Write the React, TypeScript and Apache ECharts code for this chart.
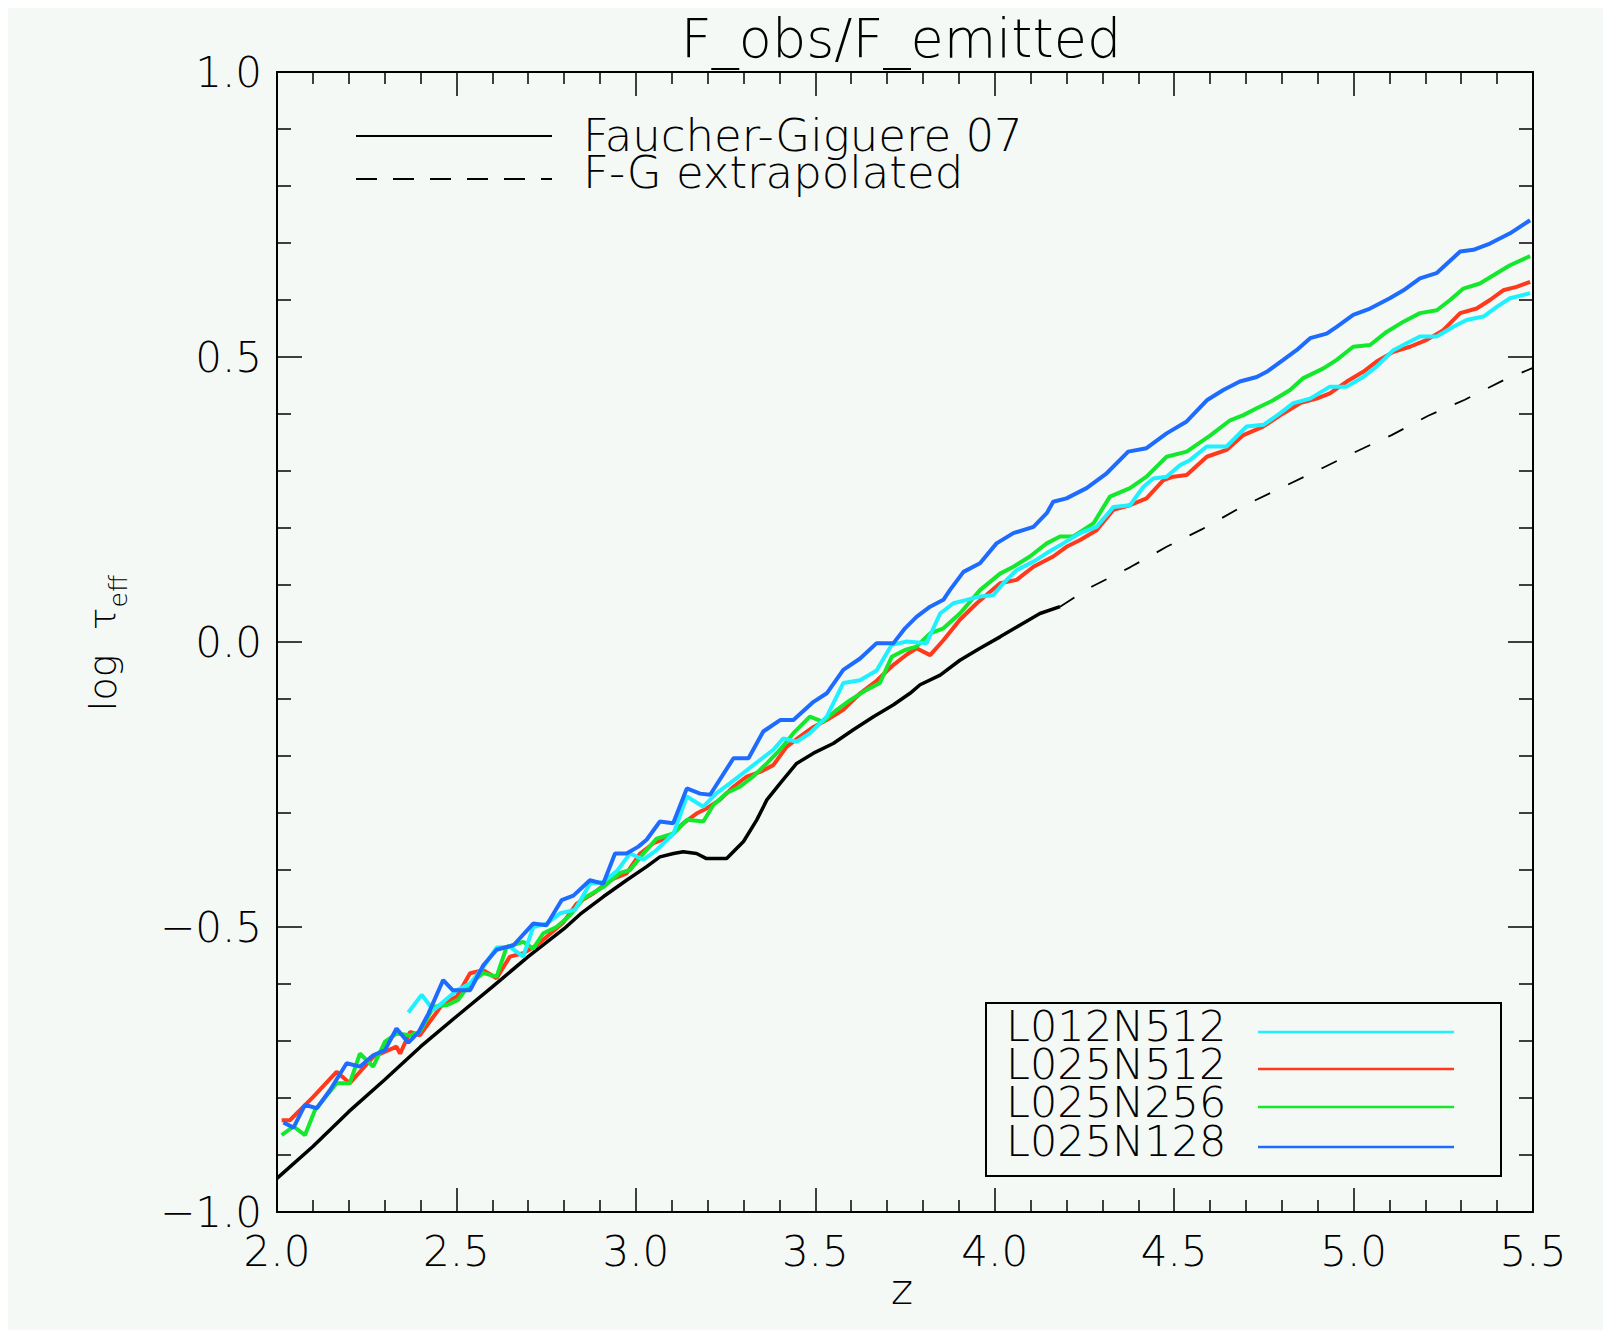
import React, { useEffect, useRef } from "react";
import * as echarts from "echarts";

const TITLE = "F_obs/F_emitted";
const X_NAME = "z";
const LEGEND_TOP = ["Faucher-Giguere 07", "F-G extrapolated"];
const RUN_NAMES = ["L012N512", "L025N512", "L025N256", "L025N128"];
const RUN_COLORS = ["#1ef0ff", "#ff3a1c", "#14e82c", "#1e6cff"];

const X_MIN = 2.0;
const X_MAX = 5.5;
const Y_MIN = -1.0;
const Y_MAX = 1.0;

// Faucher-Giguere 07 (measured range)
const fg07: number[][] = [
  [2.0, -0.941], [2.1, -0.885], [2.2, -0.824], [2.3, -0.768], [2.4, -0.71], [2.5, -0.657],
  [2.6, -0.605], [2.7, -0.552], [2.8, -0.503], [2.844, -0.478], [2.909, -0.447], [2.974, -0.418],
  [3.03, -0.394], [3.067, -0.377], [3.105, -0.371], [3.132, -0.368], [3.169, -0.371], [3.197, -0.38],
  [3.253, -0.38], [3.3, -0.35], [3.337, -0.312], [3.365, -0.277], [3.402, -0.248], [3.448, -0.213],
  [3.495, -0.195], [3.55, -0.178], [3.606, -0.154], [3.662, -0.131], [3.718, -0.11], [3.764, -0.09],
  [3.792, -0.075], [3.848, -0.058], [3.903, -0.032], [3.959, -0.011], [4.015, 0.009], [4.071, 0.03],
  [4.126, 0.05], [4.182, 0.062],
];

// F-G extrapolated
const fgExtrap: number[][] = [
  [4.182, 0.062], [4.27, 0.097], [4.377, 0.131], [4.479, 0.167], [4.581, 0.199], [4.688, 0.237],
  [4.79, 0.268], [4.893, 0.299], [5.0, 0.332], [5.106, 0.363], [5.208, 0.397], [5.31, 0.425],
  [5.417, 0.459], [5.5, 0.481],
];

const L012N512: number[][] = [
  [2.366, -0.65], [2.403, -0.619], [2.436, -0.646], [2.501, -0.611], [2.538, -0.599], [2.575, -0.57],
  [2.612, -0.536], [2.649, -0.535], [2.686, -0.552], [2.714, -0.5], [2.751, -0.494], [2.789, -0.476],
  [2.83, -0.47], [2.872, -0.424], [2.909, -0.421], [2.947, -0.402], [2.984, -0.371], [3.021, -0.382],
  [3.058, -0.365], [3.105, -0.336], [3.142, -0.271], [3.188, -0.289], [3.225, -0.265], [3.262, -0.248],
  [3.309, -0.225], [3.346, -0.207], [3.383, -0.189], [3.411, -0.169], [3.448, -0.175], [3.485, -0.16],
  [3.532, -0.131], [3.578, -0.072], [3.625, -0.067], [3.671, -0.05], [3.713, -0.005], [3.755, 0.001],
  [3.81, -0.002], [3.848, 0.05], [3.885, 0.068], [3.922, 0.074], [3.959, 0.08], [3.996, 0.082],
  [4.024, 0.103], [4.061, 0.126], [4.108, 0.141], [4.145, 0.156], [4.191, 0.173], [4.238, 0.191],
  [4.284, 0.202], [4.331, 0.237], [4.377, 0.24], [4.414, 0.272], [4.442, 0.287], [4.479, 0.29],
  [4.516, 0.31], [4.544, 0.319], [4.591, 0.343], [4.646, 0.343], [4.702, 0.378], [4.749, 0.381],
  [4.795, 0.401], [4.832, 0.419], [4.879, 0.427], [4.934, 0.448], [4.981, 0.448], [5.027, 0.465],
  [5.064, 0.483], [5.111, 0.512], [5.148, 0.524], [5.185, 0.536], [5.232, 0.536], [5.278, 0.553],
  [5.315, 0.565], [5.362, 0.571], [5.399, 0.588], [5.436, 0.603], [5.492, 0.612],
];

const L025N512: number[][] = [
  [2.013, -0.839], [2.036, -0.839], [2.101, -0.798], [2.166, -0.754], [2.203, -0.774], [2.268, -0.728],
  [2.333, -0.71], [2.343, -0.722], [2.371, -0.684], [2.398, -0.69], [2.463, -0.634], [2.501, -0.622],
  [2.538, -0.581], [2.575, -0.576], [2.612, -0.59], [2.649, -0.552], [2.686, -0.546], [2.724, -0.532],
  [2.798, -0.492], [2.835, -0.459], [2.882, -0.441], [2.928, -0.418], [2.974, -0.406], [3.012, -0.371],
  [3.049, -0.353], [3.095, -0.342], [3.132, -0.318], [3.169, -0.301], [3.197, -0.292], [3.234, -0.277],
  [3.272, -0.254], [3.309, -0.236], [3.346, -0.228], [3.383, -0.216], [3.42, -0.184], [3.457, -0.166],
  [3.495, -0.149], [3.532, -0.137], [3.578, -0.119], [3.625, -0.09], [3.671, -0.068], [3.718, -0.04],
  [3.755, -0.022], [3.782, -0.011], [3.82, -0.023], [3.857, 0.003], [3.903, 0.039], [3.95, 0.068],
  [4.015, 0.103], [4.061, 0.109], [4.108, 0.132], [4.163, 0.15], [4.2, 0.167], [4.238, 0.179],
  [4.284, 0.196], [4.331, 0.232], [4.377, 0.24], [4.423, 0.252], [4.47, 0.284], [4.498, 0.29],
  [4.535, 0.293], [4.591, 0.325], [4.646, 0.337], [4.693, 0.363], [4.748, 0.378], [4.804, 0.401],
  [4.851, 0.419], [4.897, 0.427], [4.934, 0.436], [4.981, 0.457], [5.027, 0.474], [5.064, 0.492],
  [5.111, 0.509], [5.157, 0.518], [5.204, 0.53], [5.25, 0.547], [5.297, 0.577], [5.343, 0.585],
  [5.38, 0.6], [5.417, 0.617], [5.454, 0.623], [5.492, 0.632],
];

const L025N256: number[][] = [
  [2.013, -0.865], [2.046, -0.85], [2.078, -0.865], [2.106, -0.821], [2.166, -0.774], [2.203, -0.774],
  [2.231, -0.722], [2.268, -0.745], [2.301, -0.701], [2.333, -0.687], [2.371, -0.69], [2.398, -0.684],
  [2.436, -0.64], [2.473, -0.637], [2.505, -0.628], [2.538, -0.599], [2.575, -0.581], [2.612, -0.587],
  [2.64, -0.535], [2.686, -0.526], [2.714, -0.538], [2.742, -0.511], [2.779, -0.5], [2.816, -0.48],
  [2.854, -0.45], [2.909, -0.43], [2.956, -0.405], [2.984, -0.4], [3.021, -0.371], [3.058, -0.345],
  [3.105, -0.336], [3.142, -0.312], [3.188, -0.315], [3.216, -0.286], [3.253, -0.265], [3.29, -0.254],
  [3.327, -0.236], [3.365, -0.213], [3.402, -0.189], [3.439, -0.16], [3.485, -0.131], [3.522, -0.14],
  [3.56, -0.119], [3.597, -0.102], [3.643, -0.084], [3.68, -0.072], [3.713, -0.026], [3.75, -0.014],
  [3.782, -0.008], [3.82, 0.015], [3.857, 0.024], [3.903, 0.05], [3.959, 0.091], [4.015, 0.12],
  [4.052, 0.132], [4.098, 0.15], [4.145, 0.173], [4.182, 0.185], [4.219, 0.185], [4.275, 0.208],
  [4.321, 0.255], [4.377, 0.27], [4.423, 0.29], [4.479, 0.325], [4.535, 0.334], [4.6, 0.362],
  [4.656, 0.389], [4.693, 0.398], [4.73, 0.41], [4.776, 0.424], [4.823, 0.442], [4.86, 0.463],
  [4.916, 0.48], [4.953, 0.495], [4.999, 0.518], [5.046, 0.521], [5.092, 0.544], [5.139, 0.562],
  [5.185, 0.577], [5.232, 0.582], [5.269, 0.6], [5.306, 0.62], [5.352, 0.629], [5.399, 0.647],
  [5.436, 0.661], [5.492, 0.677],
];

const L025N128: number[][] = [
  [2.018, -0.843], [2.046, -0.852], [2.078, -0.812], [2.111, -0.818], [2.148, -0.786], [2.194, -0.739],
  [2.231, -0.745], [2.268, -0.725], [2.301, -0.716], [2.333, -0.678], [2.366, -0.703], [2.394, -0.685],
  [2.422, -0.652], [2.463, -0.593], [2.49, -0.611], [2.538, -0.611], [2.575, -0.567], [2.612, -0.54],
  [2.659, -0.532], [2.714, -0.494], [2.751, -0.497], [2.793, -0.453], [2.826, -0.445], [2.872, -0.418],
  [2.909, -0.424], [2.942, -0.371], [2.974, -0.371], [3.007, -0.359], [3.03, -0.347], [3.067, -0.315],
  [3.104, -0.318], [3.142, -0.257], [3.179, -0.266], [3.207, -0.268], [3.272, -0.204], [3.314, -0.204],
  [3.355, -0.157], [3.402, -0.137], [3.439, -0.137], [3.495, -0.105], [3.532, -0.09], [3.578, -0.049],
  [3.625, -0.029], [3.671, -0.002], [3.718, -0.002], [3.75, 0.024], [3.782, 0.044], [3.82, 0.062],
  [3.857, 0.074], [3.875, 0.091], [3.913, 0.123], [3.959, 0.138], [4.005, 0.173], [4.052, 0.191],
  [4.108, 0.202], [4.145, 0.226], [4.163, 0.246], [4.2, 0.252], [4.256, 0.27], [4.312, 0.296],
  [4.372, 0.334], [4.423, 0.34], [4.479, 0.366], [4.535, 0.387], [4.591, 0.424], [4.637, 0.442],
  [4.683, 0.457], [4.73, 0.465], [4.758, 0.474], [4.804, 0.495], [4.841, 0.512], [4.879, 0.533],
  [4.925, 0.541], [4.953, 0.553], [4.999, 0.574], [5.046, 0.585], [5.101, 0.603], [5.139, 0.617],
  [5.185, 0.638], [5.231, 0.647], [5.297, 0.685], [5.334, 0.688], [5.38, 0.699], [5.436, 0.717],
  [5.492, 0.74],
];

const FONT = '"DejaVu Sans", "Liberation Sans", sans-serif';
const W = 1595;
const H = 1322;

export default function App() {
  const ref = useRef<HTMLDivElement>(null);

  useEffect(() => {
    if (!ref.current) return;
    const chart = echarts.init(ref.current, undefined, { renderer: "svg" });

    const labelStyle = {
      color: "#000",
      fontFamily: FONT,
      fontWeight: 200 as any,
      fontSize: 42,
    };
    const tickStyle = { color: "#000", width: 1.5 };
    const axisLine = { show: true, onZero: false, lineStyle: { color: "#000", width: 2 } };

    const xBase = {
      type: "value" as const,
      min: X_MIN,
      max: X_MAX,
      interval: 0.5,
      axisLine,
      splitLine: { show: false },
      minorSplitLine: { show: false },
      axisTick: { show: true, inside: true, length: 24, lineStyle: tickStyle },
      minorTick: { show: true, splitNumber: 5, length: 12, lineStyle: tickStyle },
    };
    const yBase = {
      type: "value" as const,
      min: Y_MIN,
      max: Y_MAX,
      interval: 0.5,
      axisLine,
      splitLine: { show: false },
      minorSplitLine: { show: false },
      axisTick: { show: true, inside: true, length: 25, lineStyle: tickStyle },
      minorTick: { show: true, splitNumber: 5, length: 14, lineStyle: tickStyle },
    };

    const runData = [L012N512, L025N512, L025N256, L025N128];
    const drawOrder = [1, 2, 0, 3];

    const series: any[] = [
      {
        name: LEGEND_TOP[0],
        type: "line",
        data: fg07,
        showSymbol: false,
        symbol: "none",
        lineStyle: { color: "#000", width: 3.5 },
        z: 2,
      },
      {
        name: LEGEND_TOP[1],
        type: "line",
        data: fgExtrap,
        showSymbol: false,
        symbol: "none",
        lineStyle: { color: "#000", width: 1.8, type: [17, 20] },
        z: 2,
      },
      ...drawOrder.map((i, k) => ({
        name: RUN_NAMES[i],
        type: "line",
        data: runData[i],
        showSymbol: false,
        symbol: "none",
        lineStyle: { color: RUN_COLORS[i], width: 4 },
        z: 3 + k,
      })),
    ];

    const textFont = (size: number) => `200 ${size}px ${FONT}`;

    const legendRowsY = [1018, 1056, 1094, 1133];
    const legendLinesY = [1024, 1061, 1099, 1139];

    const graphic: any[] = [
      {
        type: "text",
        x: 893,
        y: 30,
        style: {
          text: TITLE, font: textFont(54), lineHeight: 48, fill: "#000",
          textAlign: "center", textVerticalAlign: "middle",
        },
      },
      {
        type: "text",
        x: 894,
        y: 1281,
        style: { text: X_NAME, font: textFont(42), fill: "#000", textAlign: "center", textVerticalAlign: "middle" },
      },
      {
        type: "text",
        x: 99,
        y: 635,
        rotation: Math.PI / 2,
        style: {
          text: "{a|log  τ}{b|eff}",
          fill: "#000",
          textAlign: "center",
          textVerticalAlign: "middle",
          rich: {
            a: { fontFamily: FONT, fontWeight: 200, fontSize: 38, verticalAlign: "bottom", padding: [0, 0, 9, 0] },
            b: { fontFamily: FONT, fontWeight: 200, fontSize: 25, verticalAlign: "bottom" },
          },
        },
      },
      // top-left legend
      {
        type: "line",
        shape: { x1: 348, y1: 128, x2: 544, y2: 128 },
        style: { stroke: "#000", lineWidth: 2 },
      },
      {
        type: "text",
        x: 575,
        y: 127,
        style: {
          text: LEGEND_TOP[0], font: textFont(45), lineHeight: 34, fill: "#000",
          textAlign: "left", textVerticalAlign: "middle",
        },
      },
      {
        type: "line",
        shape: { x1: 348, y1: 171, x2: 544, y2: 171 },
        style: { stroke: "#000", lineWidth: 2, lineDash: [21, 16] },
      },
      {
        type: "text",
        x: 575,
        y: 164,
        style: {
          text: LEGEND_TOP[1], font: textFont(45), lineHeight: 34, fill: "#000",
          textAlign: "left", textVerticalAlign: "middle",
        },
      },
      // bottom-right legend box
      {
        type: "rect",
        shape: { x: 978, y: 995, width: 515, height: 173 },
        style: { fill: "none", stroke: "#000", lineWidth: 2 },
      },
      ...RUN_NAMES.map((n, i) => ({
        type: "text",
        x: 998,
        y: legendRowsY[i],
        style: {
          text: n, font: textFont(43), lineHeight: 34, fill: "#000",
          textAlign: "left", textVerticalAlign: "middle",
        },
      })),
      ...RUN_COLORS.map((c, i) => ({
        type: "line",
        shape: { x1: 1250, y1: legendLinesY[i], x2: 1446, y2: legendLinesY[i] },
        style: { stroke: c, lineWidth: 2.5 },
      })),
    ];

    chart.setOption({
      animation: false,
      backgroundColor: "#f5f9f6",
      grid: { left: 269, right: 70, top: 64, bottom: 118, containLabel: false },
      xAxis: [
        {
          ...xBase,
          position: "bottom",
          axisLabel: {
            ...labelStyle,
            margin: 18,
            showMinLabel: true,
            showMaxLabel: true,
            hideOverlap: false,
            formatter: (v: number) => v.toFixed(1),
          },
        },
        { ...xBase, position: "top", axisLabel: { show: false } },
      ],
      yAxis: [
        {
          ...yBase,
          position: "left",
          axisLabel: {
            ...labelStyle,
            margin: 15,
            showMinLabel: true,
            showMaxLabel: true,
            hideOverlap: false,
            formatter: (v: number) => (v < 0 ? "\u2212" : "") + Math.abs(v).toFixed(1),
          },
        },
        { ...yBase, position: "right", axisLabel: { show: false } },
      ],
      series,
      graphic,
    });

    return () => chart.dispose();
  }, []);

  return <div ref={ref} style={{ width: W, height: H, background: "#f5f9f6" }} />;
}
